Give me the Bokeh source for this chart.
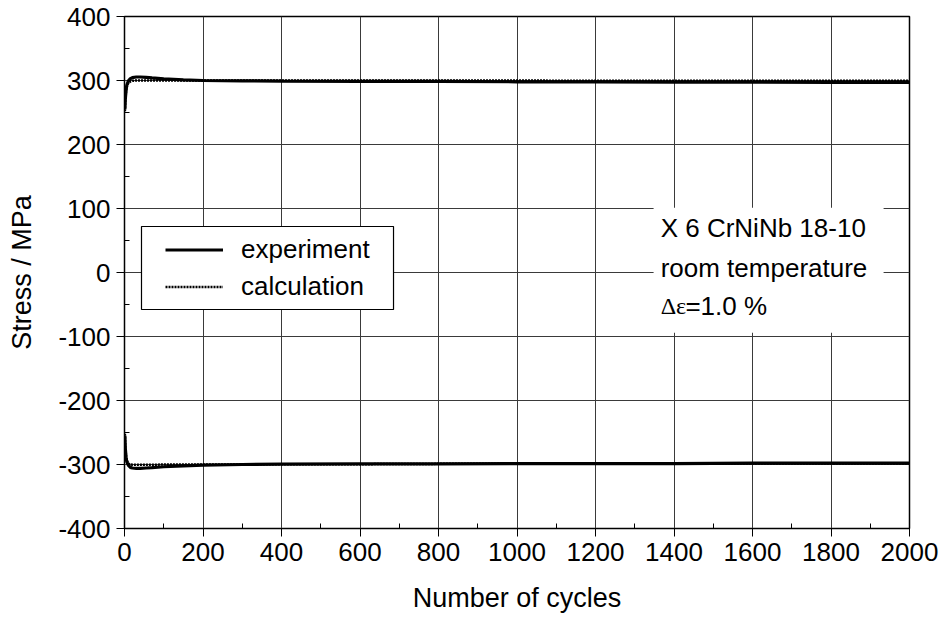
from bokeh.plotting import figure
from bokeh.models import FixedTicker, Legend, LegendItem, Label, BoxAnnotation, Range1d
from bokeh.embed import file_html
from bokeh.resources import INLINE

# ---- data ----
cycles = [1, 2, 4, 6, 10, 15, 20, 30, 40, 55, 70, 100, 150, 200, 300, 400,
          600, 800, 1000, 1200, 1400, 1600, 1800, 2000]
exp_upper = [255, 270, 285, 293, 299.5, 303, 304.5, 305.5, 305.5, 305, 304, 302.5,
             301, 300, 299.5, 299, 298.5, 298.5, 298, 298, 297.5, 297.5, 297, 297]
calc_upper = [252, 268, 283, 291, 296.5, 298.5, 299.5, 300, 300, 300, 300, 300,
              300, 300, 300, 300, 300, 300, 300, 299.5, 299.5, 299.5, 299.5, 299.5]
exp_lower = [-255, -274, -289, -296, -301.5, -304.5, -305.5, -306, -306, -305.5, -305,
             -303.5, -302, -301, -300, -299.5, -299, -299, -298.5, -298.5, -298.5,
             -298, -298, -298]
calc_lower = [-252, -271, -287, -294, -298.5, -300, -300.5, -300.5, -300.5, -300.5,
              -300.5, -300, -300, -300, -300, -299.5, -299.5, -299, -299, -299,
              -298.5, -298.5, -298.5, -298.5]

x_major = [0, 200, 400, 600, 800, 1000, 1200, 1400, 1600, 1800, 2000]
x_minor = [100, 300, 500, 700, 900, 1100, 1300, 1500, 1700, 1900]
y_major = [-400, -300, -200, -100, 0, 100, 200, 300, 400]
y_minor = [-350, -250, -150, -50, 50, 150, 250, 350]
y_labels = ["-400", "-300", "-200", "-100", "0", "100", "200", "300", "400"]
x_labels = ["0", "200", "400", "600", "800", "1000", "1200", "1400", "1600", "1800", "2000"]

x_title = "Number of cycles"
y_title = "Stress / MPa"
series_names = ["experiment", "calculation"]
note_lines = ["X 6 CrNiNb 18-10", "room temperature"]
note_delta = "\u0394\u03b5"
note_value = "=1.0 %"

FONT = "Liberation Sans"
FS = "26px"

p = figure(width=943, height=617, output_backend="svg", toolbar_location=None,
           x_range=Range1d(0, 2000), y_range=Range1d(-400, 400),
           min_border_left=124, min_border_right=34, min_border_top=16,
           min_border_bottom=89, background_fill_color="white",
           border_fill_color="white")

# axes
p.xaxis.ticker = FixedTicker(ticks=x_major, minor_ticks=x_minor)
p.yaxis.ticker = FixedTicker(ticks=y_major, minor_ticks=y_minor)
p.xaxis.major_label_overrides = {v: s for v, s in zip(x_major, x_labels)}
p.yaxis.major_label_overrides = {v: s for v, s in zip(y_major, y_labels)}
for ax in (p.xaxis[0], p.yaxis[0]):
    ax.major_tick_out = 8
    ax.major_tick_in = 0
    ax.minor_tick_in = 5
    ax.minor_tick_out = 0
    ax.major_tick_line_color = "black"
    ax.minor_tick_line_color = "black"
    ax.axis_line_color = "black"
    ax.major_label_text_font = FONT
    ax.major_label_text_font_size = FS
    ax.major_label_text_color = "black"
    ax.axis_label_text_font = FONT
    ax.axis_label_text_font_size = "27px"
    ax.axis_label_text_font_style = "normal"
    ax.axis_label_text_color = "black"
p.xaxis.axis_label = x_title
p.yaxis.axis_label = y_title
p.xaxis.major_label_standoff = 6
p.yaxis.major_label_standoff = 6
p.xaxis.axis_label_standoff = 19
p.yaxis.axis_label_standoff = 18

p.xgrid.grid_line_color = "#3a3a3a"
p.ygrid.grid_line_color = "#3a3a3a"
p.xgrid.grid_line_width = 1
p.ygrid.grid_line_width = 1
p.outline_line_color = "black"
p.outline_line_width = 1.5
p.outline_line_alpha = 1

# legend frame (white box that hides the grid behind the legend)
p.add_layout(BoxAnnotation(left=43.3, right=685.4, top=71.9, bottom=-57.8,
                           fill_color="white", fill_alpha=1,
                           line_color="black", line_width=1.2, line_alpha=1))
# annotation box
p.add_layout(BoxAnnotation(left=1348, right=1934, top=101, bottom=-94,
                           fill_color="white", fill_alpha=1, line_alpha=0))

# data lines
r_exp = p.line(cycles, exp_upper, line_color="black", line_width=3.2)
p.line(cycles, exp_lower, line_color="black", line_width=3.2)
r_calc = p.line(cycles, calc_upper, line_color="black", line_width=2.5, line_dash="2 1")
p.line(cycles, calc_lower, line_color="black", line_width=2.5, line_dash="2 1")

legend = Legend(items=[LegendItem(label=series_names[0], renderers=[r_exp]),
                       LegendItem(label=series_names[1], renderers=[r_calc])],
                location=(33, 215), margin=0, padding=8, spacing=0,
                glyph_width=58, glyph_height=37, label_height=37,
                label_standoff=18, label_text_font=FONT, label_text_font_size=FS,
                label_text_color="black", border_line_alpha=0,
                background_fill_alpha=0)
p.add_layout(legend, "center")

note_y = [70.3, 7.8]
for t, yy in zip(note_lines, note_y):
    p.add_layout(Label(x=1366, y=yy, text=t, text_font=FONT, text_font_size=FS,
                       text_color="black", text_baseline="alphabetic",
                       text_align="left"))
p.add_layout(Label(x=1366, y=-53.1, text=note_delta, text_font="Liberation Serif",
                   text_font_size="24px", text_color="black",
                   text_baseline="alphabetic", text_align="left"))
p.add_layout(Label(x=1429, y=-53.1, text=note_value, text_font=FONT,
                   text_font_size=FS, text_color="black",
                   text_baseline="alphabetic", text_align="left"))

open("out.html", "w").write(file_html(p, INLINE))
